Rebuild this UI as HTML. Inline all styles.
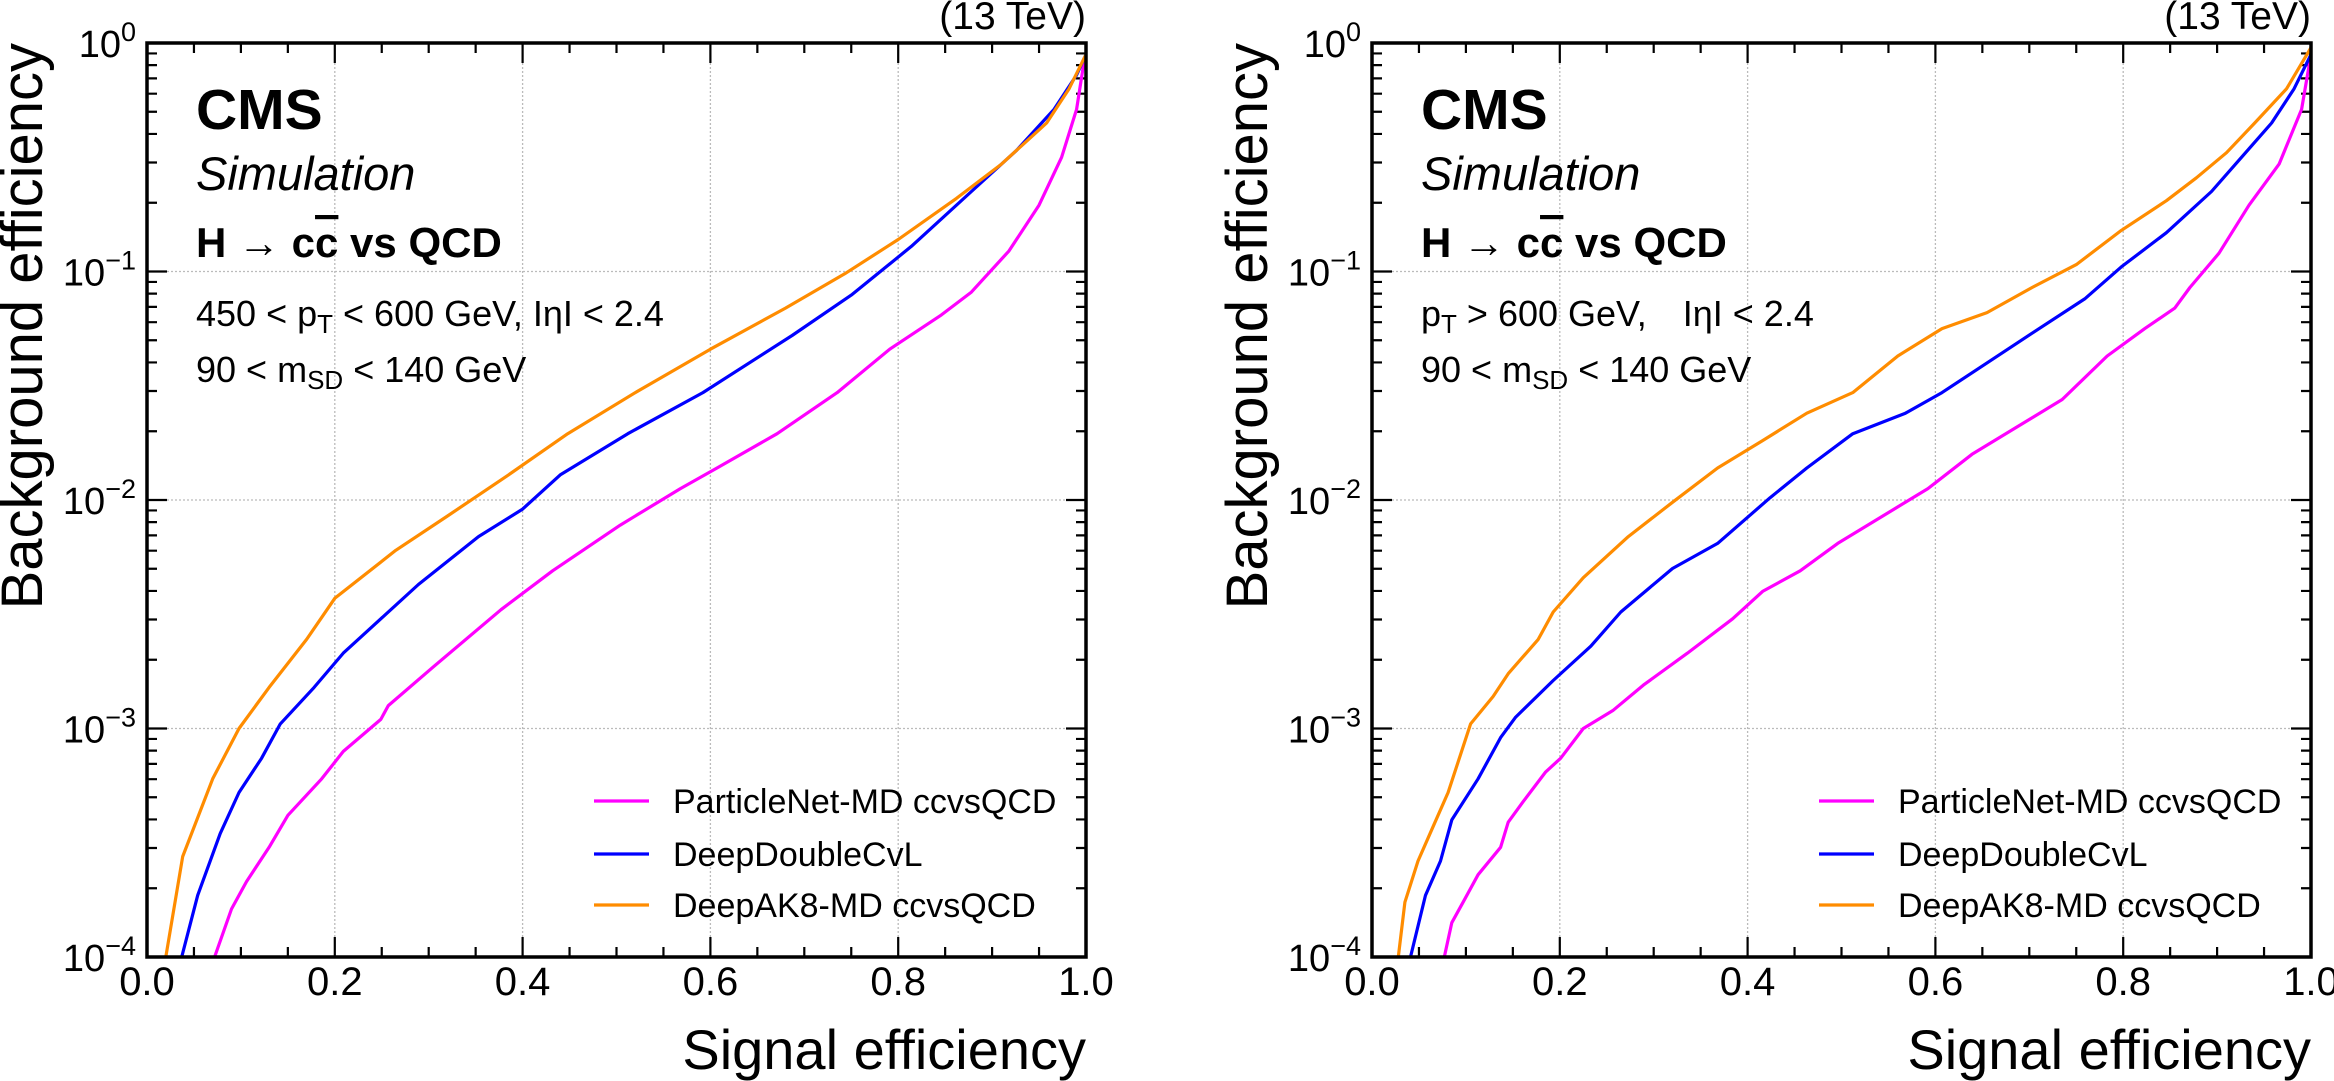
<!DOCTYPE html>
<html><head><meta charset="utf-8">
<style>
html,body{margin:0;padding:0;background:#fff;}
svg{display:block;font-family:"Liberation Sans",Arial,sans-serif;}
</style></head>
<body>
<svg id="fig" width="2334" height="1081" viewBox="0 0 2334 1081" xmlns="http://www.w3.org/2000/svg"></svg>
<script>
// ---- data (signal efficiency, log10 background efficiency) ----
const tickLabelsX = ["0.0","0.2","0.4","0.6","0.8","1.0"];
const tickExpY = ["0","\u22121","\u22122","\u22123","\u22124"];
const seriesNames = ["ParticleNet-MD ccvsQCD","DeepDoubleCvL","DeepAK8-MD ccvsQCD"];
const seriesColors = ["#ff00ff","#0000ff","#ff8c00"];

const L_orange_x = [.02,.038,.07,.098,.13,.17,.2,.265,.32,.385,.448,.52,.6,.68,.743,.8,.862,.91,.958,.982,1.0];
const L_orange_y = [-4,-3.56,-3.22,-3.0,-2.82,-2.61,-2.43,-2.22,-2.07,-1.89,-1.71,-1.53,-1.34,-1.16,-1.01,-0.86,-0.68,-0.53,-0.35,-0.2,-0.05];
const L_blue_x = [.037,.054,.078,.098,.122,.142,.178,.209,.249,.289,.353,.4,.44,.512,.592,.687,.751,.814,.878,.926,.966,.99,1.0];
const L_blue_y = [-4,-3.73,-3.46,-3.28,-3.13,-2.98,-2.82,-2.67,-2.52,-2.37,-2.16,-2.04,-1.89,-1.71,-1.53,-1.28,-1.1,-0.89,-0.65,-0.47,-0.29,-0.14,-0.05];
const L_mag_x = [.072,.09,.106,.13,.15,.186,.209,.249,.257,.305,.377,.432,.504,.568,.607,.671,.735,.791,.846,.878,.918,.95,.974,.99,.998];
const L_mag_y = [-4,-3.79,-3.67,-3.52,-3.38,-3.22,-3.1,-2.96,-2.9,-2.73,-2.48,-2.31,-2.11,-1.95,-1.86,-1.71,-1.53,-1.34,-1.19,-1.09,-0.91,-0.71,-0.5,-0.29,-0.08];

const R_orange_x = [.028,.035,.049,.065,.081,.105,.129,.145,.177,.193,.225,.273,.32,.368,.416,.463,.512,.56,.607,.655,.703,.75,.798,.846,.878,.91,.94,.974,1.0];
const R_orange_y = [-4,-3.76,-3.58,-3.43,-3.28,-2.98,-2.86,-2.76,-2.61,-2.49,-2.34,-2.16,-2.01,-1.86,-1.74,-1.62,-1.53,-1.37,-1.25,-1.18,-1.07,-0.97,-0.82,-0.69,-0.59,-0.48,-0.35,-0.2,-0.02];
const R_blue_x = [.041,.057,.073,.085,.113,.137,.153,.193,.233,.265,.32,.368,.424,.463,.512,.568,.607,.655,.703,.759,.798,.846,.894,.926,.958,.982,1.0];
const R_blue_y = [-4,-3.73,-3.58,-3.4,-3.22,-3.04,-2.95,-2.79,-2.64,-2.49,-2.3,-2.19,-1.99,-1.86,-1.71,-1.62,-1.53,-1.4,-1.27,-1.12,-0.98,-0.83,-0.65,-0.5,-0.35,-0.2,-0.05];
const R_mag_x = [.077,.085,.097,.113,.137,.145,.161,.185,.201,.225,.257,.289,.336,.384,.416,.456,.496,.544,.592,.639,.687,.735,.783,.823,.855,.871,.902,.934,.966,.99,1.0];
const R_mag_y = [-4,-3.85,-3.76,-3.64,-3.52,-3.41,-3.32,-3.19,-3.13,-3.0,-2.92,-2.81,-2.67,-2.52,-2.4,-2.31,-2.19,-2.07,-1.95,-1.8,-1.68,-1.56,-1.37,-1.25,-1.16,-1.07,-0.92,-0.71,-0.53,-0.29,-0.05];

const NS = "http://www.w3.org/2000/svg";
const svg = document.getElementById("fig");
function mk(tag, attrs, parent){
  const e = document.createElementNS(NS, tag);
  for (const k in attrs) e.setAttribute(k, attrs[k]);
  (parent||svg).appendChild(e);
  return e;
}

const Y0 = 43, Y1 = 957, W = 939;
function drawPanel(side, x0, curves, ptLine){
  const g = mk("g", {});
  
  
  const sx = v => x0 + v * W;
  const sy = lg => Y0 + (-lg) / 4 * (Y1 - Y0);
  for (let i = 1; i < 5; i++) {
    const l = mk("line", {x1:sx(i*0.2), x2:sx(i*0.2), y1:Y0, y2:Y1, stroke:"#bbb", "stroke-width":1.3, "stroke-dasharray":"2,2"}, g);
    
    
  }
  for (let d = -3; d <= -1; d++) {
    const l = mk("line", {x1:x0, x2:x0+W, y1:sy(d), y2:sy(d), stroke:"#bbb", "stroke-width":1.3, "stroke-dasharray":"2,2"}, g);
    
    
  }
  let tp = "";
  for (let i = 1; i < 20; i++) {
    const len = (i % 4 === 0) ? 20 : 10;
    const x = sx(i*0.05);
    tp += `M${x},${Y1}v${-len}M${x},${Y0}v${len}`;
  }
  for (let d = -4; d <= 0; d++) {
    const y = sy(d);
    if (d > -4 && d < 0) tp += `M${x0},${y}h20M${x0+W},${y}h-20`;
    if (d < 0) for (let m = 2; m <= 9; m++) {
      const ym = sy(d + Math.log10(m));
      tp += `M${x0},${ym}h10M${x0+W},${ym}h-10`;
    }
  }
  const ticks = mk("path", {d:tp, stroke:"#000", "stroke-width":2.2, fill:"none"}, g);
  
  
  curves.forEach((c, ci) => {
    let d = "";
    c[0].forEach((xv, i) => { d += (i ? "L" : "M") + sx(xv).toFixed(1) + "," + sy(c[1][i]).toFixed(1); });
    const p = mk("path", {d:d, stroke:seriesColors[ci], "stroke-width":3.2, fill:"none", "stroke-linejoin":"round"}, g);
    
    
  });
  const fr = mk("rect", {x:x0, y:Y0, width:W, height:Y1-Y0, fill:"none", stroke:"#000", "stroke-width":3.5}, g);
  
  
  tickLabelsX.forEach((t, i) => {
    const tx = mk("text", {x:sx(i*0.2), y:995, "font-size":40, "text-anchor":"middle"}, g);
    tx.textContent = t;
    
    
  });
  tickExpY.forEach((e, i) => {
    const y = sy(-i);
    const tx = mk("text", {x:x0-11, y:y+14, "font-size":38, "text-anchor":"end"}, g);
    
    
    const b = document.createElementNS(NS, "tspan"); b.textContent = "10"; tx.appendChild(b);
    const s = document.createElementNS(NS, "tspan"); s.setAttribute("dy", -16); s.setAttribute("font-size", 27); s.textContent = e; tx.appendChild(s);
  });
  const xt = mk("text", {x:x0+W, y:1069, "font-size":56, "text-anchor":"end"}, g);
  xt.textContent = "Signal efficiency";
  
  
  const ytx = x0 - 105;
  const yt = mk("text", {x:0, y:0, "font-size":58, "text-anchor":"end", transform:`translate(${ytx},${Y0}) rotate(-90)`}, g);
  yt.textContent = "Background efficiency";
  
  
  const en = mk("text", {x:x0+W, y:29, "font-size":39, "text-anchor":"end"}, g);
  en.textContent = "(13 TeV)";
  
  
  const tx0 = x0 + 49;
  const cms = mk("text", {x:tx0, y:129, "font-size":57, "font-weight":"bold"}, g);
  cms.textContent = "CMS";
  
  
  const sim = mk("text", {x:tx0, y:190, "font-size":47, "font-style":"italic"}, g);
  sim.textContent = "Simulation";
  
  
  const proc = mk("text", {x:tx0, y:257, "font-size":42, "font-weight":"bold"}, g);
  proc.innerHTML = 'H \u2192 c<tspan text-decoration="overline">c</tspan> vs QCD';
  
  
  const pt = mk("text", {x:tx0, y:326, "font-size":36}, g);
  pt.innerHTML = ptLine;
  
  
  const ms = mk("text", {x:tx0, y:382, "font-size":36}, g);
  ms.innerHTML = '90 &lt; m<tspan font-size="26" dy="7">SD</tspan><tspan dy="-7"> &lt; 140 GeV</tspan>';
  
  
  const legY = [801, 854, 905];
  seriesNames.forEach((n, i) => {
    const lg = mk("g", {}, g);
    
    
    mk("line", {x1:x0+447, x2:x0+502, y1:legY[i], y2:legY[i], stroke:seriesColors[i], "stroke-width":3.2}, lg);
    const t = mk("text", {x:x0+526, y:legY[i]+12, "font-size":34}, lg);
    t.textContent = n;
  });
}

drawPanel("left", 147, [[L_mag_x,L_mag_y],[L_blue_x,L_blue_y],[L_orange_x,L_orange_y]],
  '450 &lt; p<tspan font-size="26" dy="7">T</tspan><tspan dy="-7"> &lt; 600 GeV, I\u03b7I &lt; 2.4</tspan>');
drawPanel("right", 1372, [[R_mag_x,R_mag_y],[R_blue_x,R_blue_y],[R_orange_x,R_orange_y]],
  'p<tspan font-size="26" dy="7">T</tspan><tspan dy="-7"> &gt; 600 GeV,\u2003I\u03b7I &lt; 2.4</tspan>');
</script>
</body></html>
